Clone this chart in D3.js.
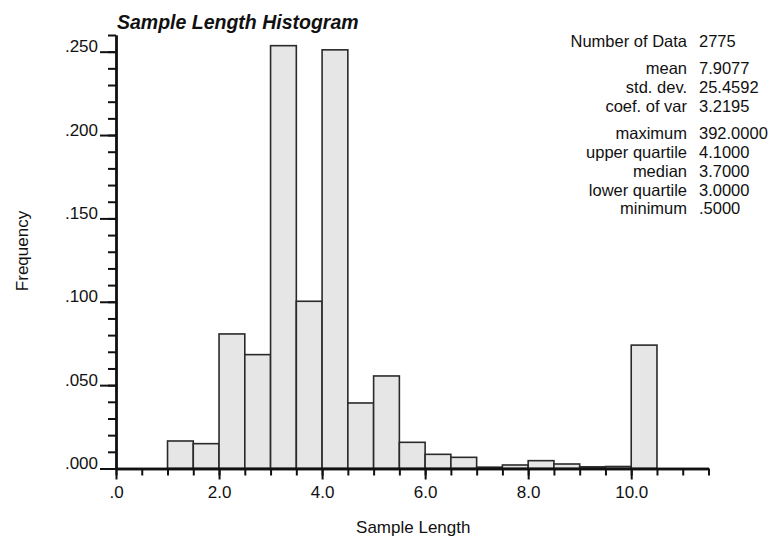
<!DOCTYPE html>
<html>
<head>
<meta charset="utf-8">
<script src="https://cdn.jsdelivr.net/npm/d3@7/dist/d3.min.js"></script>
<style>
  body { margin: 0; background: #fff; }
  text { font-family: "Liberation Sans", Arial, Helvetica, sans-serif; fill: #111; }
</style>
</head>
<body>
<div id="chart"></div>
<script>
// histogram bins (lower edge) and their frequencies
const binStarts = [0.0, 0.5, 1.0, 1.5, 2.0, 2.5, 3.0, 3.5, 4.0, 4.5, 5.0, 5.5, 6.0, 6.5, 7.0, 7.5, 8.0, 8.5, 9.0, 9.5, 10.0];
const frequencies = [0, 0, 0.0165, 0.0149, 0.0807, 0.0683, 0.2536, 0.1003, 0.2511, 0.0393, 0.0555, 0.0157, 0.0085, 0.0067, 0.0008, 0.0021, 0.0047, 0.0027, 0.0010, 0.0012, 0.0740];
const binWidth = 0.5;

// axis ticks
const xMajorTicks = [0, 2, 4, 6, 8, 10];
const yMajorTicks = [0, 0.05, 0.10, 0.15, 0.20, 0.25];

// summary statistics, in display groups
const statLabels = ['Number of Data', 'mean', 'std. dev.', 'coef. of var', 'maximum', 'upper quartile', 'median', 'lower quartile', 'minimum'];
const statValues = ['2775', '7.9077', '25.4592', '3.2195', '392.0000', '4.1000', '3.7000', '3.0000', '.5000'];
const statGroup = [0, 1, 1, 1, 2, 2, 2, 2, 2];

const width = 772;
const height = 537;
const margin = { top: 35, bottom: 68.5, left: 116, right: 63.5 };

const svg = d3.select('#chart').append('svg')
    .attr('width', width)
    .attr('height', height);

const xScale = d3.scaleLinear()
    .domain([0, 11.5])
    .range([margin.left, width - margin.right]);

const yScale = d3.scaleLinear()
    .domain([0, 0.26])
    .range([height - margin.bottom, margin.top]);

/**
 * Bars
 */
const data = binStarts.map((x0, i) => ({ x0, x1: x0 + binWidth, freq: frequencies[i] }));

svg.append('g')
    .selectAll('rect')
    .data(data)
    .enter()
    .append('rect')
    .attr('x', d => xScale(d.x0))
    .attr('width', d => xScale(d.x1) - xScale(d.x0))
    .attr('y', d => yScale(d.freq))
    .attr('height', d => yScale(0) - yScale(d.freq))
    .attr('fill', '#e6e6e6')
    .attr('stroke', '#2a2a2a')
    .attr('stroke-width', 1.6);

/**
 * Axes: minor ticks first, then major ticks with labels
 */
const stripZero = s => s.replace(/^0\./, '.');

const xMinor = svg.append('g')
    .attr('transform', `translate(0, ${yScale(0)})`)
    .call(d3.axisBottom(xScale)
        .tickValues(d3.range(0, 11.51, 0.5))
        .tickSize(7)
        .tickSizeOuter(0)
        .tickFormat(''));

const xMajor = svg.append('g')
    .attr('transform', `translate(0, ${yScale(0)})`)
    .call(d3.axisBottom(xScale)
        .tickValues(xMajorTicks)
        .tickSize(11)
        .tickSizeOuter(0)
        .tickFormat(d => stripZero(d3.format('.1f')(d))));

xMajor.selectAll('text')
    .attr('y', 29.5)
    .attr('dy', 0)
    .style('font-size', '17px');

const yMinor = svg.append('g')
    .attr('transform', `translate(${xScale(0)}, 0)`)
    .call(d3.axisLeft(yScale)
        .tickValues(d3.range(0, 0.2601, 0.01))
        .tickSize(8)
        .tickSizeOuter(0)
        .tickFormat(''));

const yMajor = svg.append('g')
    .attr('transform', `translate(${xScale(0)}, 0)`)
    .call(d3.axisLeft(yScale)
        .tickValues(yMajorTicks)
        .tickSize(16)
        .tickSizeOuter(0)
        .tickFormat(d => stripZero(d3.format('.3f')(d))));

yMajor.selectAll('text')
    .attr('x', -18)
    .attr('dy', 0)
    .style('font-size', '17px');

[xMinor, xMajor, yMinor, yMajor].forEach(g => {
    g.selectAll('.tick line').attr('stroke', '#111').attr('stroke-width', 2);
    g.select('.domain').attr('stroke', '#111').attr('stroke-width', 2.4);
    g.selectAll('text').attr('fill', '#111').style('font-family', '"Liberation Sans", Arial, sans-serif');
});

/**
 * Titles
 */
svg.append('text')
    .attr('x', 117)
    .attr('y', 29)
    .style('font-size', '19.5px')
    .style('font-weight', 'bold')
    .style('font-style', 'italic')
    .text('Sample Length Histogram');

svg.append('text')
    .attr('x', (xScale(0) + xScale(11.5)) / 2 + 1)
    .attr('y', 533)
    .attr('text-anchor', 'middle')
    .style('font-size', '17px')
    .text('Sample Length');

svg.append('text')
    .attr('transform', `translate(28, ${251}) rotate(-90)`)
    .attr('text-anchor', 'middle')
    .style('font-size', '17px')
    .text('Frequency');

/**
 * Statistics block
 */
const rowStep = 18.8;
const groupGap = 8.5;
const stats = svg.append('g');

statLabels.forEach((label, i) => {
    const y = 47 + i * rowStep + statGroup[i] * groupGap;
    stats.append('text')
        .attr('x', 687)
        .attr('y', y)
        .attr('text-anchor', 'end')
        .style('font-size', '16.5px')
        .text(label);
    stats.append('text')
        .attr('x', 699)
        .attr('y', y)
        .style('font-size', '16.5px')
        .text(statValues[i]);
});
</script>
</body>
</html>
